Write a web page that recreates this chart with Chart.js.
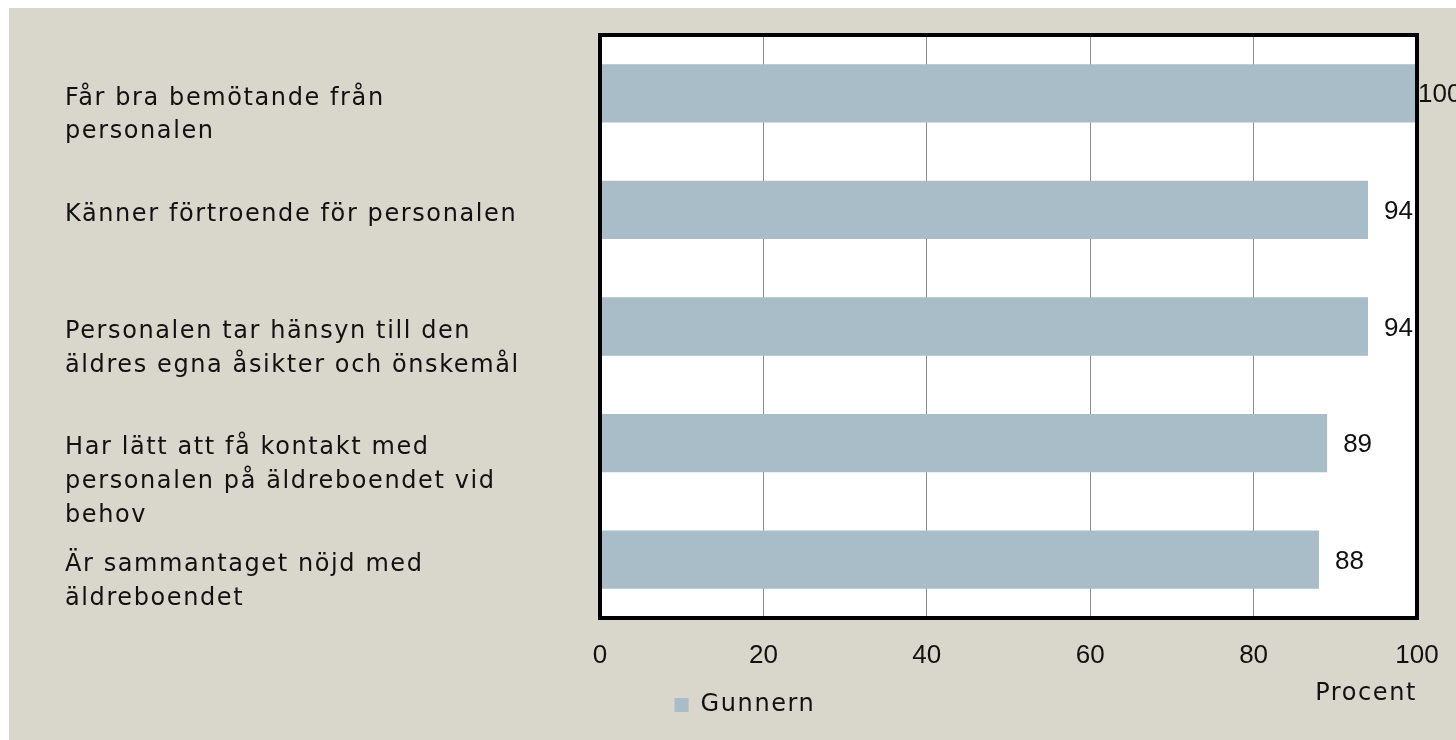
<!DOCTYPE html>
<html>
<head>
<meta charset="utf-8">
<script src="https://cdn.jsdelivr.net/npm/chart.js@4/dist/chart.umd.min.js"></script>
<style>
  html, body { margin: 0; padding: 0; background: #ffffff; overflow: hidden; }
  #wrap { position: absolute; left: 9px; top: 8px; width: 1447px; height: 732px; background: #d9d7cb; }
</style>
</head>
<body>
<div id="wrap"><canvas id="c"></canvas></div>
<script>
const categories = [
  ["Får bra bemötande från", "personalen"],
  ["Känner förtroende för personalen"],
  ["Personalen tar hänsyn till den", "äldres egna åsikter och önskemål"],
  ["Har lätt att få kontakt med", "personalen på äldreboendet vid", "behov"],
  ["Är sammantaget nöjd med", "äldreboendet"]
];
const seriesName = "Gunnern";
const values = [100, 94, 94, 89, 88];
const xTicks = [0, 20, 40, 60, 80, 100];
const axisTitle = "Procent";

const FONT = "DejaVu Sans";
const NUMFONT = "Liberation Sans";
const FS_NUM = 26;   // digits
const FS_TXT = 24;   // words
const SPACING = '1.6px';
const TEXT = "#111111";

const decor = {
  id: 'decor',
  beforeLayout(chart) { chart.ctx.letterSpacing = SPACING; },
  beforeDraw(chart) {
    const {ctx, chartArea: a} = chart;
    ctx.letterSpacing = SPACING;
    ctx.save();
    ctx.fillStyle = '#ffffff';
    ctx.fillRect(a.left, a.top, a.right - a.left, a.bottom - a.top);
    ctx.restore();
  },
  beforeDatasetsDraw(chart) { chart.ctx.letterSpacing = '0px'; },
  afterDatasetsDraw(chart) {
    const {ctx, chartArea: a} = chart;
    const xs = chart.scales.x, ys = chart.scales.y;
    ctx.save();
    ctx.strokeStyle = '#000000';
    ctx.lineWidth = 4;
    ctx.strokeRect(a.left, a.top, a.right - a.left, a.bottom - a.top);
    ctx.fillStyle = TEXT;
    ctx.textBaseline = 'middle';
    ctx.textAlign = 'left';
    // value labels
    ctx.letterSpacing = '0px';
    ctx.font = FS_NUM + "px '" + NUMFONT + "'";
    const meta = chart.getDatasetMeta(0);
    meta.data.forEach((bar, i) => {
      const x = Math.min(xs.getPixelForValue(values[i]) + 16, a.right + 1);
      ctx.fillText(String(values[i]), x, bar.y + 2);
    });
    // category labels (top-anchored at bar centre)
    ctx.letterSpacing = SPACING;
    ctx.font = FS_TXT + "px '" + FONT + "'";
    const lh = 33.8;
    categories.forEach((lines, i) => {
      const y0 = ys.getPixelForValue(i) + 5;
      lines.forEach((t, k) => ctx.fillText(t, 56, y0 + k * lh));
    });
    ctx.restore();
    ctx.letterSpacing = '0px';
  }
};

new Chart(document.getElementById('c'), {
  type: 'bar',
  data: {
    labels: categories,
    datasets: [{
      label: seriesName,
      data: values,
      backgroundColor: '#a8bdc7',
      borderWidth: 0,
      barPercentage: 0.5,
      categoryPercentage: 1.0
    }]
  },
  options: {
    indexAxis: 'y',
    responsive: true,
    maintainAspectRatio: false,
    animation: false,
    layout: { padding: { left: 64, right: 39, top: 27, bottom: 13 } },
    scales: {
      x: {
        min: 0, max: 100,
        afterBuildTicks(scale) { scale.ticks = xTicks.map(v => ({ value: v })); },
        afterFit(scale) { scale.paddingRight = 0; scale.paddingLeft = 0; },
        ticks: { color: TEXT, font: { family: NUMFONT, size: FS_NUM }, padding: 22, maxRotation: 0, z: 1 },
        grid: { color: '#8c8c8c', lineWidth: 1, drawTicks: false },
        border: { display: false },
        title: {
          display: true, text: axisTitle, align: 'end', color: TEXT,
          font: { family: FONT, size: FS_TXT },
          padding: { top: -14, bottom: -25 }
        }
      },
      y: {
        ticks: { display: false },
        grid: { display: false, drawTicks: false },
        border: { display: false },
        afterFit(scale) { scale.width = 527; }
      }
    },
    plugins: {
      legend: {
        position: 'bottom',
        labels: { color: TEXT, font: { family: FONT, size: FS_TXT }, boxWidth: 14, boxHeight: 14, padding: 10 }
      },
      tooltip: { enabled: false }
    }
  },
  plugins: [decor]
});
</script>
</body>
</html>
